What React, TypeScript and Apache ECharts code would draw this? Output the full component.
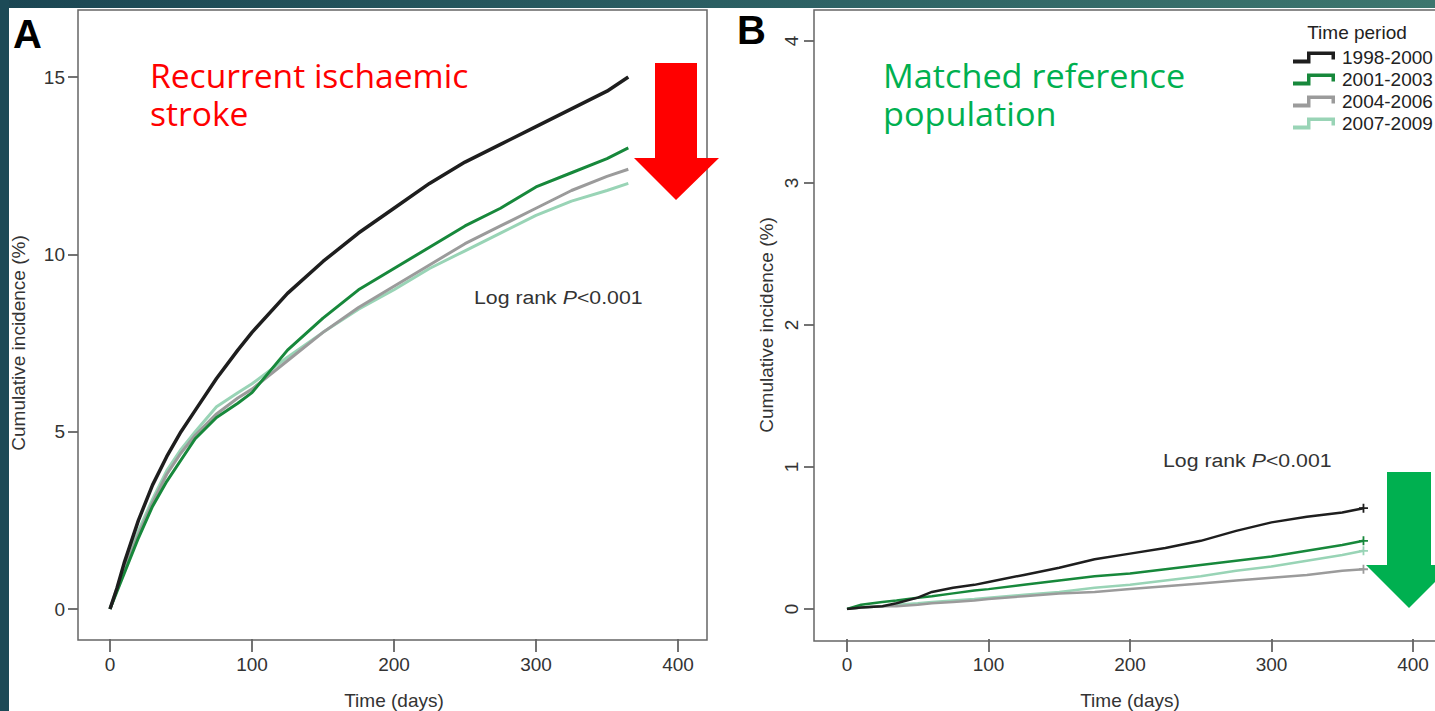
import React, { useEffect, useRef } from "react";
import * as echarts from "echarts";

// ---- data ----
const periods = ["1998-2000", "2001-2003", "2004-2006", "2007-2009"];
const periodColors = ["#1e1e1e", "#17883b", "#9b9b9b", "#99d4b6"];

// Panel A: recurrent ischaemic stroke (cumulative incidence %, by day)
const daysA = [0, 5, 10, 20, 30, 40, 50, 60, 75, 90, 100, 125, 150, 175, 200, 225, 250, 275, 300, 325, 350, 365];
const strokeP1 = [0, 0.6, 1.3, 2.5, 3.5, 4.3, 5.0, 5.6, 6.5, 7.3, 7.8, 8.9, 9.8, 10.6, 11.3, 12.0, 12.6, 13.1, 13.6, 14.1, 14.6, 15.0];
const strokeP2 = [0, 0.5, 1.0, 2.0, 2.9, 3.6, 4.2, 4.8, 5.4, 5.8, 6.1, 7.3, 8.2, 9.0, 9.6, 10.2, 10.8, 11.3, 11.9, 12.3, 12.7, 13.0];
const strokeP3 = [0, 0.55, 1.1, 2.1, 3.0, 3.8, 4.4, 4.9, 5.5, 5.95, 6.2, 7.0, 7.8, 8.5, 9.1, 9.7, 10.3, 10.8, 11.3, 11.8, 12.2, 12.4];
const strokeP4 = [0, 0.6, 1.2, 2.2, 3.1, 3.9, 4.5, 5.0, 5.7, 6.1, 6.35, 7.1, 7.8, 8.45, 9.0, 9.6, 10.1, 10.6, 11.1, 11.5, 11.8, 12.0];

// Panel B: matched reference population
const daysB = [0, 10, 25, 35, 50, 60, 75, 90, 100, 125, 150, 175, 200, 225, 250, 275, 300, 325, 350, 365];
const refP1 = [0, 0.01, 0.02, 0.04, 0.08, 0.12, 0.15, 0.17, 0.19, 0.24, 0.29, 0.35, 0.39, 0.43, 0.48, 0.55, 0.61, 0.65, 0.68, 0.71];
const refP2 = [0, 0.03, 0.05, 0.06, 0.08, 0.09, 0.11, 0.13, 0.14, 0.17, 0.20, 0.23, 0.25, 0.28, 0.31, 0.34, 0.37, 0.41, 0.45, 0.48];
const refP3 = [0, 0.01, 0.02, 0.02, 0.03, 0.04, 0.05, 0.06, 0.07, 0.09, 0.11, 0.12, 0.14, 0.16, 0.18, 0.20, 0.22, 0.24, 0.27, 0.28];
const refP4 = [0, 0.01, 0.02, 0.03, 0.04, 0.05, 0.06, 0.07, 0.08, 0.10, 0.12, 0.15, 0.17, 0.20, 0.23, 0.27, 0.30, 0.34, 0.38, 0.41];

// axis ranges (ticks every interval, starting from min)
const xRange = [0, 400];
const xStep = 100;
const yRangeA = [0, 15];
const yStepA = 5;
const yRangeB = [0, 4];
const yStepB = 1;

const FONT = "Liberation Sans, Arial, sans-serif";
const AXIS_TXT = "#333";
const BOX = "#666";
const LEGEND_ICON = "path://M0,8L14,8L14,0L42,0L42,8L38.5,8L38.5,3.5L17.5,3.5L17.5,12L0,12Z";
const PLUS = "path://M4,0H6V4H10V6H6V10H4V6H0V4H4Z";

const hiddenAxis = (gridIndex: number, min: number, max: number) => ({
  gridIndex,
  type: "value",
  show: false,
  min,
  max,
  splitLine: { show: false },
});

function tickXAxis(gridIndex: number) {
  return {
    gridIndex,
    type: "value",
    position: "bottom",
    min: xRange[0],
    max: xRange[1],
    interval: xStep,
    splitLine: { show: false },
    axisLine: { show: false, onZero: false },
    axisTick: { show: true, length: 13, lineStyle: { color: "#444", width: 1.5 } },
    axisLabel: { fontSize: 19, color: AXIS_TXT, fontFamily: FONT, margin: 16 },
    name: "Time (days)",
    nameLocation: "middle",
    nameGap: 52,
    nameTextStyle: { fontSize: 19, color: AXIS_TXT, fontFamily: FONT },
  };
}

function tickYAxis(gridIndex: number, range: number[], step: number, rotate: number, nameGap: number) {
  return {
    gridIndex,
    type: "value",
    position: "left",
    min: range[0],
    max: range[1],
    interval: step,
    splitLine: { show: false },
    axisLine: { show: false, onZero: false },
    axisTick: { show: true, length: 10, lineStyle: { color: "#444", width: 1.5 } },
    axisLabel: { fontSize: 19, color: AXIS_TXT, fontFamily: FONT, margin: 13, rotate },
    name: "Cumulative incidence (%)",
    nameLocation: "middle",
    nameGap,
    nameTextStyle: { fontSize: 19, color: AXIS_TXT, fontFamily: FONT },
  };
}

function lineA(idx: number, vals: number[]) {
  return {
    name: periods[idx],
    type: "line",
    xAxisIndex: 0,
    yAxisIndex: 0,
    symbol: "none",
    z: 10 - idx,
    itemStyle: { color: periodColors[idx] },
    lineStyle: { color: periodColors[idx], width: idx === 0 ? 3.5 : 3 },
    data: daysA.map((d, i) => [d, vals[i]]),
  };
}

function lineB(idx: number, vals: number[]) {
  const data: any[] = daysB.map((d, i) => [d, vals[i]]);
  const last = data.length - 1;
  data[last] = { value: data[last], symbol: PLUS, symbolSize: 9 };
  return {
    name: periods[idx],
    type: "line",
    xAxisIndex: 1,
    yAxisIndex: 1,
    symbol: "none",
    showSymbol: true,
    z: 10 - idx,
    itemStyle: { color: periodColors[idx] },
    lineStyle: { color: periodColors[idx], width: 2.5 },
    data,
  };
}

const logRank = (x: number, y: number) => ({
  type: "text",
  x,
  y,
  scaleX: 1.12,
  style: {
    text: "{n|Log rank }{i|P}{n|<0.001}",
    verticalAlign: "middle",
    rich: {
      n: { fontSize: 19, fill: "#333", fontFamily: FONT },
      i: { fontSize: 19, fill: "#333", fontFamily: FONT, fontStyle: "italic" },
    },
  },
});

const frame = (x: number, y: number, w: number, h: number) => ({
  type: "rect",
  shape: { x, y, width: w, height: h },
  style: { fill: "none", stroke: BOX, lineWidth: 1.5 },
  silent: true,
  z: 5,
});

export default function App() {
  const ref = useRef<HTMLDivElement>(null);
  useEffect(() => {
    document.body.style.margin = "0";
    const chart = echarts.init(ref.current!, undefined, { renderer: "svg" });
    const option: any = {
      animation: false,
      backgroundColor: "#ffffff",
      grid: [
        // data grids
        { left: 110, top: 77, width: 568, height: 532 },
        { left: 847, top: 41, width: 566, height: 568 },
        // panel A: y ticks at the frame's left edge, x ticks at its bottom edge
        { left: 78, top: 77, width: 20, height: 532 },
        { left: 110, top: 600, width: 568, height: 40 },
        // panel B
        { left: 814, top: 41, width: 20, height: 568 },
        { left: 847, top: 600, width: 566, height: 41 },
      ],
      xAxis: [
        hiddenAxis(0, xRange[0], xRange[1]),
        hiddenAxis(1, xRange[0], xRange[1]),
        hiddenAxis(2, 0, 1),
        tickXAxis(3),
        hiddenAxis(4, 0, 1),
        tickXAxis(5),
      ],
      yAxis: [
        hiddenAxis(0, yRangeA[0], yRangeA[1]),
        hiddenAxis(1, yRangeB[0], yRangeB[1]),
        tickYAxis(2, yRangeA, yStepA, 0, 50),
        hiddenAxis(3, 0, 1),
        tickYAxis(4, yRangeB, yStepB, 90, 38),
        hiddenAxis(5, 0, 1),
      ],
      legend: {
        left: 1288,
        top: 43,
        orient: "vertical",
        itemWidth: 42,
        itemHeight: 12,
        itemGap: 3,
        icon: LEGEND_ICON,
        selectedMode: false,
        data: periods,
        textStyle: { fontSize: 19, color: "#222", fontFamily: FONT, padding: [0, 0, 0, 2] },
      },
      series: [
        lineA(3, strokeP4),
        lineA(2, strokeP3),
        lineA(1, strokeP2),
        lineA(0, strokeP1),
        lineB(2, refP3),
        lineB(3, refP4),
        lineB(1, refP2),
        lineB(0, refP1),
      ],
      graphic: [
        frame(78, 10, 629, 630),
        frame(814, 10, 640, 631),
        {
          type: "rect",
          shape: { x: 0, y: 0, width: 1435, height: 8 },
          style: {
            fill: new echarts.graphic.LinearGradient(0, 0, 1, 0, [
              { offset: 0, color: "#1b4653" },
              { offset: 0.5, color: "#2b5f63" },
              { offset: 1, color: "#3d766e" },
            ]),
          },
          silent: true,
          z: 100,
        },
        {
          type: "rect",
          shape: { x: 0, y: 0, width: 9, height: 711 },
          style: { fill: "#1c4a57" },
          silent: true,
          z: 100,
        },
        { type: "text", x: 13, y: 14, style: { text: "A", fontSize: 40, fontWeight: "bold", fill: "#000", fontFamily: FONT } },
        { type: "text", x: 737, y: 10, style: { text: "B", fontSize: 40, fontWeight: "bold", fill: "#000", fontFamily: FONT } },
        {
          type: "text",
          x: 150,
          y: 57,
          scaleX: 1.05,
          style: { text: "Recurrent ischaemic\nstroke", fontSize: 32, lineHeight: 38, fill: "#ff0000", fontFamily: "Open Sans, sans-serif" },
        },
        {
          type: "text",
          x: 883,
          y: 57,
          scaleX: 1.07,
          style: { text: "Matched reference\npopulation", fontSize: 32, lineHeight: 38, fill: "#00b050", fontFamily: "Open Sans, sans-serif" },
        },
        logRank(474, 297),
        logRank(1163, 460),
        {
          type: "text",
          x: 1357,
          y: 32,
          style: { text: "Time period", fontSize: 19, fill: "#222", fontFamily: FONT, align: "center", verticalAlign: "middle" },
        },
        {
          type: "polygon",
          shape: { points: [[655, 63], [697, 63], [697, 158], [719, 158], [676, 200], [634, 158], [655, 158]] },
          style: { fill: "#ff0000" },
          z: 50,
        },
        {
          type: "polygon",
          shape: { points: [[1387, 472], [1431, 472], [1431, 565], [1452, 565], [1409, 608], [1366, 565], [1387, 565]] },
          style: { fill: "#00b050" },
          z: 50,
        },
      ],
    };
    chart.setOption(option);
    return () => chart.dispose();
  }, []);
  return <div ref={ref} style={{ position: "absolute", left: 0, top: 0, width: 1435, height: 711 }} />;
}
